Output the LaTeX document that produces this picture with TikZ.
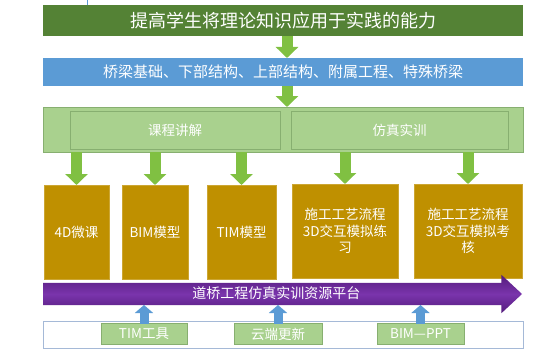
\documentclass[tikz,border=0pt]{standalone}
\usepackage{fontspec}
\setmainfont{Noto Sans CJK SC}
\usetikzlibrary{arrows.meta, shapes.arrows}

\definecolor{topgreen}{RGB}{84,130,53}
\definecolor{barblue}{RGB}{91,155,213}
\definecolor{palegreen}{RGB}{169,209,142}
\definecolor{palegreenline}{RGB}{135,175,112}
\definecolor{ochre}{RGB}{191,144,0}
\definecolor{arrowgreen}{RGB}{128,192,66}
\definecolor{darkviolet}{RGB}{84,28,124}
\definecolor{midviolet}{RGB}{122,52,172}
\definecolor{frameblue}{RGB}{165,185,215}

\begin{document}
\begin{tikzpicture}[
    x=1pt, y=-1pt,
    bar/.style={draw=none, minimum width=480pt, inner sep=0pt, outer sep=0pt, text=white},
    panel/.style={draw=palegreenline, fill=palegreen, inner sep=0pt, outer sep=0pt,
        line width=0.8pt, text=white, font=\fontsize{13.5}{16}\selectfont},
    block/.style={fill=ochre, draw=ochre!80!white, inner sep=0pt, outer sep=0pt,
        minimum height=94pt, text=white, align=center,
        font=\fontsize{13.5}{16.7}\selectfont},
    tool/.style={fill=palegreen, draw=palegreenline, inner sep=0pt, outer sep=0pt,
        minimum height=21pt, text=white, font=\fontsize{13.5}{16}\selectfont},
    downarrow/.style={draw=arrowgreen, line width=11pt,
        -{Triangle[width=22pt, length=11pt]}},
    uparrow/.style={draw=barblue, line width=9pt,
        -{Triangle[width=18pt, length=8pt]}}
]
    \useasboundingbox (0,0) rectangle (554,353);
    \draw[barblue, line width=0.8pt] (87,0) -- (87,5);

    % top goal and content bars
    \node[bar, fill=topgreen, minimum height=31pt, font=\fontsize{18}{20}\selectfont]
        (goal) at (283,20.5) {提高学生将理论知识应用于实践的能力};
    \node[bar, fill=barblue, minimum height=28pt, font=\fontsize{15}{17}\selectfont]
        (content) at (283,72) {桥梁基础、下部结构、上部结构、附属工程、特殊桥梁};

    % teaching panel with two parts
    \node[panel, minimum width=480pt, minimum height=45pt] (teach) at (283,129.5) {};
    \node[panel, minimum width=210pt, minimum height=38pt] (lecture) at (175,130) {课程讲解};
    \node[panel, minimum width=217pt, minimum height=38pt] (practice) at (399.5,130) {仿真实训};

    % resource blocks
    \node[block, minimum width=65pt] (b1) at (76.5,232) {4D微课};
    \node[block, minimum width=66pt] (b2) at (155,232) {BIM模型};
    \node[block, minimum width=69pt] (b3) at (241.5,232) {TIM模型};
    \node[block, minimum width=106pt] (b4) at (345,231) {施工工艺流程\\3D交互模拟练\\习};
    \node[block, minimum width=108pt] (b5) at (468,231) {施工工艺流程\\3D交互模拟考\\核};

    % platform arrow
    \node[single arrow, anchor=tail, minimum width=38pt, minimum height=479pt,
        single arrow head extend=8pt, single arrow tip angle=86,
        text height=11pt, text depth=3pt,
        inner xsep=0pt, inner ysep=4pt, outer sep=0pt, draw=none,
        top color=darkviolet, bottom color=darkviolet, middle color=midviolet,
        text=white, font=\fontsize{14}{16}\selectfont]
        (plat) at (43,294) {道桥工程仿真实训资源平台};
    \coordinate (platbase) at (0,305);

    % tools
    \node[draw=frameblue, fill=white, minimum width=480pt, minimum height=27pt,
        inner sep=0pt, outer sep=0pt] (toolbar) at (283,334.5) {};
    \node[tool, minimum width=86pt] (tim) at (144,334) {TIM工具};
    \node[tool, minimum width=88pt] (cloud) at (278,334) {云端更新};
    \node[tool, minimum width=87pt] (ppt) at (420.5,334) {BIM—PPT};

    % arrows
    \draw[downarrow] ([xshift=4pt]goal.south) -- ([xshift=4pt]content.north);
    \draw[downarrow] ([xshift=4pt]content.south) -- ([xshift=4pt]teach.north);
    \foreach \b in {b1,b2,b3,b4,b5}
        \draw[downarrow] (\b.north |- teach.south) -- (\b.north);
    \foreach \t in {tim,cloud,ppt}
        \draw[uparrow] (\t.north) -- (\t.north |- platbase);
\end{tikzpicture}
\end{document}
